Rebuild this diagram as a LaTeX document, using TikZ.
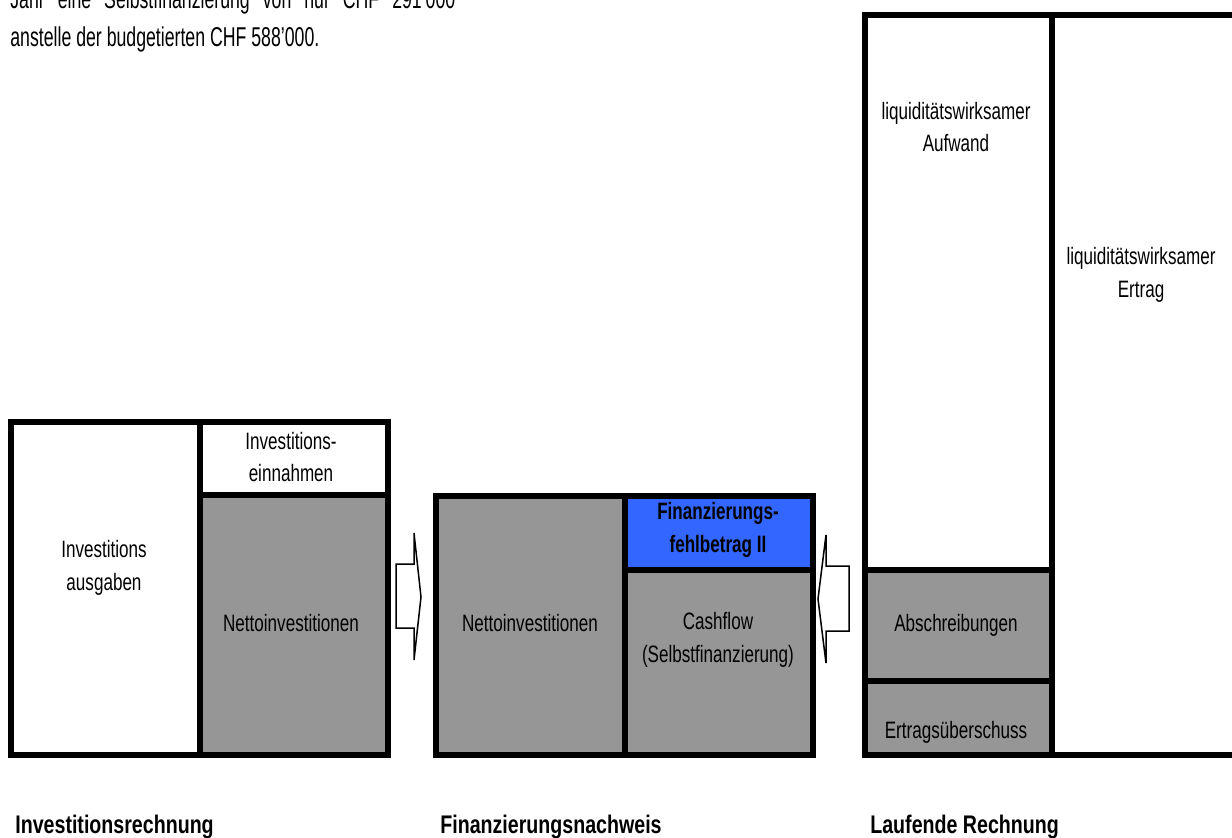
\documentclass[tikz,border=0pt]{standalone}
\usepackage{fontspec}
\setmainfont{Liberation Sans}[FakeStretch=0.72]
\newfontfamily\introfont{Liberation Sans}[FakeStretch=0.65]
\newfontfamily\footfont{Liberation Sans}[FakeStretch=0.77]
\usetikzlibrary{positioning}
\definecolor{cellgray}{RGB}{150,150,150}
\definecolor{gapblue}{RGB}{51,102,255}
\newdimen\pxu \pxu=0.02cm
\tikzset{cell/.style={draw, line width=6\pxu, fill=white, line join=miter},
  shaded/.style={cell, fill=cellgray},
  boxtext/.style={align=center, inner sep=0pt, font=\fontsize{13.5}{18.5}\selectfont},
  foottext/.style={anchor=base west, inner sep=0pt, font=\footfont\fontsize{14.5}{17}\selectfont\bfseries},
  introtext/.style={anchor=base west, inner sep=0pt, font=\introfont\fontsize{15.5}{19}\selectfont},
  flowarrow/.style={draw, line width=1.5\pxu, fill=white, line join=miter}}

\begin{document}
\begin{tikzpicture}[x=0.02cm, y=-0.02cm]
\useasboundingbox (0,0) rectangle (1232,838);
\clip (0,0) rectangle (1232,838);

% text above
\node[introtext] (intro1) at (10,9) {\makebox[445\pxu][s]{Jahr eine Selbstfinanzierung von nur CHF 291’000}};
\node[introtext] (intro2) at (10,47) {anstelle der budgetierten CHF 588’000.};

% Investitionsrechnung
\draw[cell] (11,421.5) rectangle (199.5,754.5);
\draw[cell] (199.5,421.5) rectangle (387.5,495);
\draw[shaded] (199.5,495) rectangle (387.5,754.5);
\node[boxtext] (ausgaben) at (104,568) {Investitions\\ausgaben};
\node[boxtext] (einnahmen) at (291,457) {Investitions-\\einnahmen};
\node[boxtext] (netto1) at (291,623) {Nettoinvestitionen};

% Finanzierungsnachweis
\draw[shaded] (436,495.5) rectangle (625,754.5);
\draw[cell, fill=gapblue] (625,495.5) rectangle (812.5,569.5);
\draw[shaded] (625,569.5) rectangle (812.5,754.5);
\node[boxtext] (netto2) at (530,623) {Nettoinvestitionen};
\node[boxtext, font=\fontsize{13.5}{18.5}\selectfont\bfseries] (fehlbetrag) at (718,530) {Finanzierungs-\\fehlbetrag II};
\node[boxtext] (cashflow) at (718,640) {Cashflow\\(Selbstfinanzierung)};

% Laufende Rechnung
\draw[cell] (864.5,15.5) rectangle (1052,569.5);
\draw[shaded] (864.5,569.5) rectangle (1052,680.5);
\draw[shaded] (864.5,680.5) rectangle (1052,754.5);
\draw[cell] (1052,15.5) rectangle (1245,754.5);
\node[boxtext] (aufwand) at (956,127) {liquiditätswirksamer\\Aufwand};
\node[boxtext] (ertrag) at (1141,275) {liquiditätswirksamer\\Ertrag};
\node[boxtext] (abschreibungen) at (956,625) {Abschreibungen};
\node[boxtext] (ueberschuss) at (956,732) {Ertragsüberschuss};

% Pfeile
\draw[flowarrow] (396,564) -- (414,564) -- (414,533) -- (421,597) -- (414,660) -- (414,628) -- (396,628) -- cycle;
\draw[flowarrow] (849,566) -- (826,566) -- (826,535) -- (818,599) -- (826,663) -- (826,631) -- (849,631) -- cycle;

% Beschriftung unten
\node[foottext] (invrechnung) at (15,833) {Investitionsrechnung};
\node[foottext] (finnachweis) at (440,833) {Finanzierungsnachweis};
\node[foottext] (laufrechnung) at (870,833) {Laufende Rechnung};
\end{tikzpicture}
\end{document}
